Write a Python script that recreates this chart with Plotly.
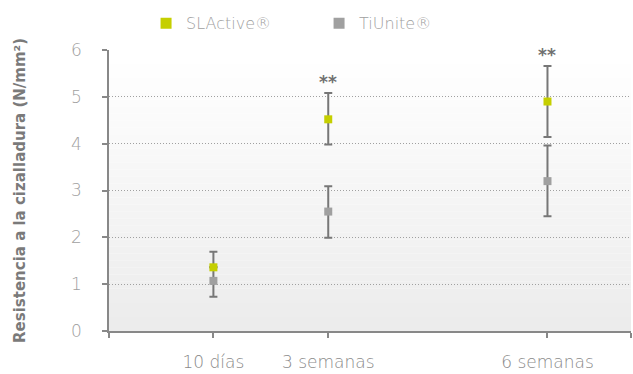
import plotly.graph_objects as go

# ---- data ----
days = [10, 21, 42]
tick_vals = [0, 10, 21, 42, 50]
tick_text = ["", "10 días", "3 semanas", "6 semanas", ""]

sla_name = "SLActive®"
sla_mean = [1.36, 4.52, 4.90]
sla_plus = [0.33, 0.56, 0.76]
sla_minus = [0.0, 0.54, 0.76]

ti_name = "TiUnite®"
ti_mean = [1.07, 2.55, 3.20]
ti_plus = [0.29, 0.54, 0.76]
ti_minus = [0.34, 0.56, 0.75]

signif = ["", "**", "**"]

GREEN = "#c5cf00"
GREY = "#a0a0a0"
ERR = "#777777"

fig = go.Figure()

# TiUnite first so the SLActive marker sits on top at 10 days
fig.add_trace(go.Scatter(
    x=days, y=ti_mean, mode="markers", showlegend=False,
    marker=dict(symbol="square", size=8, color=GREY),
    error_y=dict(type="data", symmetric=False, array=ti_plus, arrayminus=ti_minus,
                 color=ERR, thickness=2, width=4),
))
fig.add_trace(go.Scatter(
    x=days, y=sla_mean, mode="markers", showlegend=False,
    marker=dict(symbol="square", size=8, color=GREEN),
    error_y=dict(type="data", symmetric=False, array=sla_plus, arrayminus=sla_minus,
                 color=ERR, thickness=2, width=4),
))

# legend entries
fig.add_trace(go.Scatter(x=[None], y=[None], mode="markers", name=sla_name,
                         marker=dict(symbol="square", size=11, color=GREEN)))
fig.add_trace(go.Scatter(x=[None], y=[None], mode="markers", name=ti_name,
                         marker=dict(symbol="square", size=11, color=GREY)))

# significance marks
for d, m, p, s in zip(days, sla_mean, sla_plus, signif):
    if s:
        fig.add_annotation(x=d, y=m + p, text=s, showarrow=False, yshift=11,
                           font=dict(family="DejaVu Sans", size=17, color="#707070", weight="bold"))

# vertical gradient background of plot area
n = 40
top = (255, 255, 255)
bot = (236, 236, 236)
shapes = []
for i in range(n):
    t = i / (n - 1)
    c = tuple(round(top[k] + (bot[k] - top[k]) * t) for k in range(3))
    y1 = 1 - i / n
    y0 = 1 - (i + 1) / n
    shapes.append(dict(type="rect", xref="paper", yref="paper", x0=0, x1=1, y0=y0, y1=y1,
                       fillcolor="rgb(%d,%d,%d)" % c, line=dict(width=0), layer="below"))

fig.update_layout(
    width=633, height=374,
    margin=dict(l=109, r=2, t=50, b=37, pad=0),
    paper_bgcolor="white", plot_bgcolor="white",
    shapes=shapes,
    font=dict(family="DejaVu Sans", color="#999999"),
    legend=dict(orientation="h", x=0.071, xanchor="left", y=1.095, yanchor="middle",
                entrywidth=128, font=dict(family="DejaVu Sans", size=16, color="#a0a0a0", weight=200),
                bgcolor="rgba(0,0,0,0)", traceorder="normal"),
    xaxis=dict(range=[0, 50], tickvals=tick_vals, ticktext=tick_text,
               showgrid=False, zeroline=False, showline=True, linecolor="#888888", linewidth=1.5,
               ticks="outside", ticklen=5, tickcolor="#888888", tickwidth=1.5,
               tickfont=dict(family="DejaVu Sans", size=17, color="#8a8a8a", weight=200),
               ticklabelstandoff=10),
    yaxis=dict(range=[0, 6], dtick=1, showgrid=True, gridcolor="#a0a0a0", griddash="1px,2px",
               gridwidth=1, zeroline=False, showline=True, linecolor="#888888", linewidth=1.5,
               ticks="outside", ticklen=5, tickcolor="#888888", tickwidth=1.5,
               tickfont=dict(family="DejaVu Sans", size=17, color="#a0a0a0", weight=200),
               ticklabelstandoff=17,
               title=dict(text="Resistencia a la cizalladura (N/mm²)", standoff=42,
                          font=dict(family="DejaVu Sans", size=15, color="#7a7a7a", weight="bold"))),
)

fig.write_html("out.html")
